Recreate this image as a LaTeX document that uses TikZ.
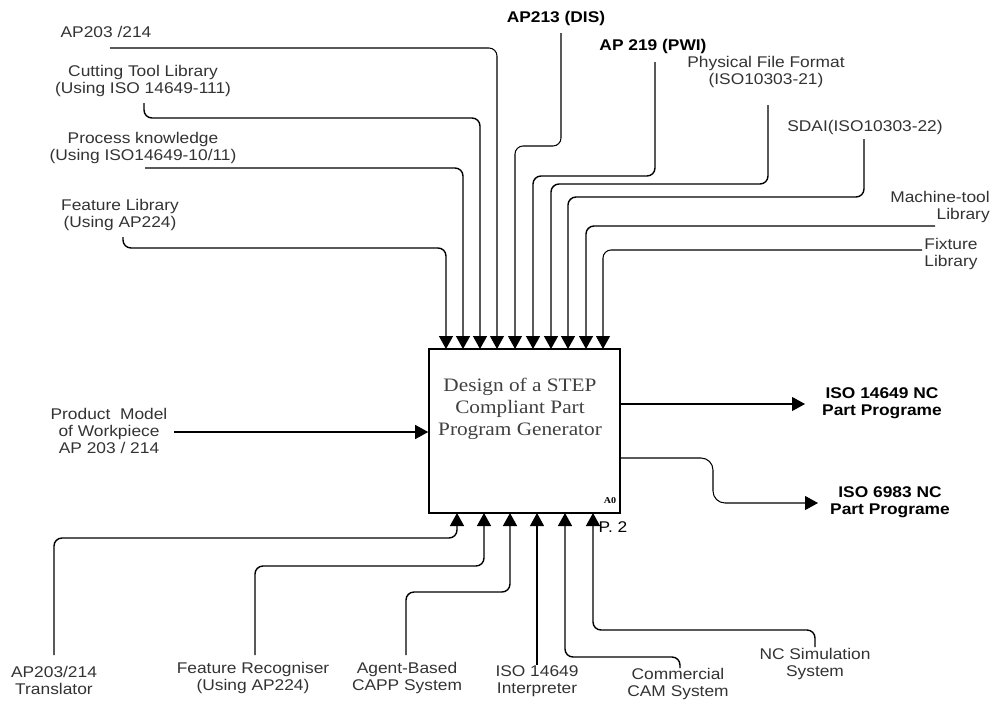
\documentclass[tikz,border=0pt]{standalone}
\usepackage{fontspec}
\setmainfont{Liberation Sans}[FakeStretch=1.12]
\newfontfamily\boxserif{Liberation Serif}[FakeStretch=1.12]
\usetikzlibrary{arrows.meta}
\begin{document}
\begin{tikzpicture}[x=1pt,y=-1pt,
  lbl/.style={font=\fontsize{15.5}{17}\selectfont, text=black!80, align=center, inner sep=0pt},
  blbl/.style={font=\bfseries\fontsize{15.5}{17}\selectfont, text=black, align=center, inner sep=0pt},
  conn/.style={line width=1.4pt, rounded corners=8pt},
  thin conn/.style={conn, line width=1.05pt},
  arr/.style={-{Triangle[length=13pt,width=14pt]}},
  mainbox/.style={draw, line width=1.6pt, minimum width=191pt, minimum height=164pt, inner sep=0pt}]
\useasboundingbox (0,0) rectangle (993,705);

% main box
\node[mainbox] (box) at (524.5,431) {};
\node[font=\boxserif\fontsize{19}{22}\selectfont, text=black!75, align=center, inner sep=0pt] (title) at (520,409)
  {Design of a STEP\\Compliant Part\\Program Generator};
\node[font=\boxserif\bfseries\fontsize{9}{10}\selectfont, inner sep=0pt] (a0) at (610,501) {A0};
\node[lbl, text=black] (p2) at (613,527) {P. 2};

% top labels
\node[lbl] (ap203) at (106,32) {AP203 /214};
\node[lbl] (ctl) at (143,81) {Cutting Tool Library\\(Using ISO 14649-111)};
\node[lbl] (pk) at (143,148) {Process knowledge\\(Using ISO14649-10/11)};
\node[lbl] (fl) at (120,215) {Feature Library\\ (Using AP224)};
\node[blbl] (ap213) at (556,18) {AP213 (DIS)};
\node[blbl] (ap219) at (653,46) {AP 219 (PWI)};
\node[lbl] (pff) at (766,72) {Physical File Format\\(ISO10303-21)};
\node[lbl] (sdai) at (865,127) {SDAI(ISO10303-22)};
\node[lbl, align=right] (mtl) at (940,207) {Machine-tool\\Library};
\node[lbl] (fix) at (951,254) {Fixture\\Library};

% left / right labels
\node[lbl] (pm) at (109,431) {Product\ \ Model\\of Workpiece\\AP 203 / 214};
\node[blbl] (o1) at (882,403) {ISO 14649 NC\\Part Programe};
\node[blbl] (o2) at (890,502) {ISO 6983 NC\\Part Programe};

% bottom labels
\node[lbl] (bt) at (54,680) {AP203/214\\Translator};
\node[lbl] (fr) at (253,678) {Feature Recogniser\\(Using AP224)};
\node[lbl] (ab) at (407,678) {Agent-Based\\CAPP System};
\node[lbl] (ii) at (537,681) {ISO 14649\\Interpreter};
\node[lbl] (cc) at (678,684) {Commercial\\CAM System};
\node[lbl] (nc) at (815,664) {NC Simulation\\System};

% arrow tip coordinates
\foreach \n/\x in {1/446,2/463,3/480,4/497,5/515,6/533,7/551,8/568,9/586,10/603}
  \coordinate (t\n) at (\x,349);
\foreach \n/\x in {1/457,2/484,3/510,4/537,5/565,6/593}
  \coordinate (b\n) at (\x,513);

% start coordinates
\coordinate (s1) at (123,237);
\coordinate (s2) at (145,168);
\coordinate (s3) at (144,103);
\coordinate (s4) at (110,48);
\coordinate (s5) at (561,33);
\coordinate (s6) at (655,62);
\coordinate (s7) at (768,105);
\coordinate (s8) at (864,139);
\coordinate (s9) at (935,226);
\coordinate (s10) at (922,250);

% top connectors
\draw[conn,arr] (s1) -- (123,248) -- (446,248) -- (t1);
\draw[conn,arr] (s2) -- (463,168) -- (t2);
\draw[conn,arr] (s3) -- (144,118) -- (480,118) -- (t3);
\draw[thin conn,arr] (s4) -- (497,48) -- (t4);
\draw[thin conn,arr] (s5) -- (561,146) -- (515,146) -- (t5);
\draw[conn,arr] (s6) -- (655,176) -- (533,176) -- (t6);
\draw[conn,arr] (s7) -- (768,184) -- (551,184) -- (t7);
\draw[conn,arr] (s8) -- (864,197) -- (568,197) -- (t8);
\draw[conn,arr] (s9) -- (586,226) -- (t9);
\draw[thin conn,arr] (s10) -- (603,250) -- (t10);

% left input
\coordinate (pmend) at (174,432);
\draw[thin conn,arr] (pmend) -- (box.west |- pmend);

% outputs
\coordinate (o1s) at (620,404);
\coordinate (o1e) at (805,404);
\coordinate (o2s) at (620,458);
\coordinate (o2e) at (818,503);
\draw[thin conn,arr] (o1s) -- (o1e);
\draw[thin conn,arr,rounded corners=12pt] (o2s) -- (713,458) -- (713,503) -- (o2e);

% bottom connectors
\coordinate (u1) at (54,655);
\coordinate (u2) at (255,655);
\coordinate (u3) at (406,655);
\coordinate (u4) at (537,665);
\coordinate (u5) at (680,668);
\coordinate (u6) at (815,647);
\draw[conn,arr] (u1) -- (54,538) -- (457,538) -- (b1);
\draw[conn,arr] (u2) -- (255,566) -- (484,566) -- (b2);
\draw[conn,arr] (u3) -- (406,592) -- (510,592) -- (b3);
\draw[thin conn,arr] (u4) -- (b4);
\draw[conn,arr] (u5) -- (680,657) -- (565,657) -- (b5);
\draw[conn,arr] (u6) -- (815,630) -- (593,630) -- (b6);
\end{tikzpicture}
\end{document}
